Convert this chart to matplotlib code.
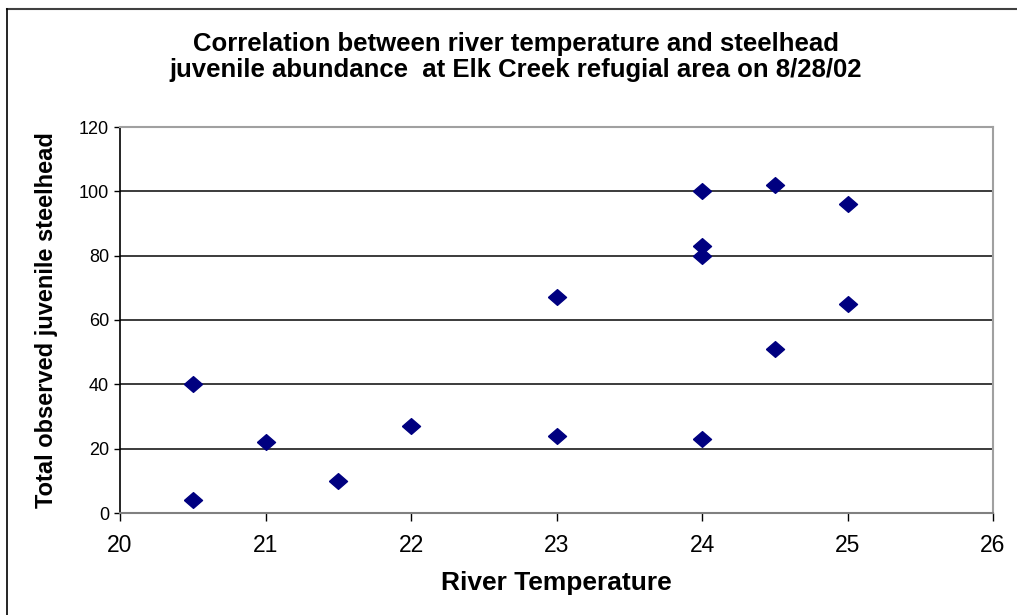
import matplotlib
matplotlib.use("Agg")
import matplotlib.pyplot as plt
from matplotlib.lines import Line2D

plt.rcParams['font.family'] = ['Liberation Sans', 'DejaVu Sans']

temperature = [20.5, 20.5, 21, 21.5, 22, 23, 23, 24, 24, 24, 24, 24.5, 24.5, 25, 25]
steelhead = [40, 4, 22, 10, 27, 67, 24, 100, 83, 80, 23, 102, 51, 96, 65]
x_ticks = [20, 21, 22, 23, 24, 25, 26]
y_ticks = [0, 20, 40, 60, 80, 100, 120]

fig = plt.figure(figsize=(10.17, 6.15), dpi=100)
ax = fig.add_axes([120/1017, 1-513/615, (993-120)/1017, (513-127)/615])

for yv in y_ticks[1:-1]:
    ax.axhline(yv, color='#1a1a1a', lw=1.2, zorder=1)

diamond = [(-1, 0), (0, 0.87), (1, 0), (0, -0.87), (-1, 0)]
ax.plot(temperature, steelhead, linestyle='none', marker=diamond, markersize=13,
        color='#000080', markeredgecolor='#000080', zorder=3, clip_on=False)

ax.set_xlim(20, 26)
ax.set_ylim(0, 120)
ax.set_xticks(x_ticks)
ax.set_yticks(y_ticks)
ax.tick_params(axis='x', direction='out', length=6, width=1, labelsize=16.5, pad=9,
               colors='black')
ax.tick_params(axis='y', direction='out', length=4, width=1, labelsize=13, pad=4)

ax.spines['left'].set_color('black')
ax.spines['bottom'].set_color('#808080')
ax.spines['top'].set_color('#a0a0a0')
ax.spines['right'].set_color('#a0a0a0')
for s in ax.spines.values():
    s.set_linewidth(1.5)
ax.spines['left'].set_linewidth(1.2)

ax.set_xlabel('River Temperature', fontsize=19, fontweight='bold')
ax.xaxis.set_label_coords(0.5, (513 - 571) / 386)
ax.set_ylabel('Total observed juvenile steelhead', fontsize=17, fontweight='bold')
ax.yaxis.set_label_coords((58 - 120) / 873, 0.5)

fig.text(516/1017, 1-57/615,
         'Correlation between river temperature and steelhead\n'
         'juvenile abundance  at Elk Creek refugial area on 8/28/02',
         ha='center', va='center', fontsize=18.5, fontweight='bold', linespacing=1.15)

# figure border (top and left)
fig.add_artist(Line2D([7/1017, 1.0], [1-9/615, 1-9/615], color='#404040', lw=1.5,
                      transform=fig.transFigure))
fig.add_artist(Line2D([7/1017, 7/1017], [0, 1-9/615], color='black', lw=1.2,
                      transform=fig.transFigure))

fig.savefig('out.png', dpi=100)
